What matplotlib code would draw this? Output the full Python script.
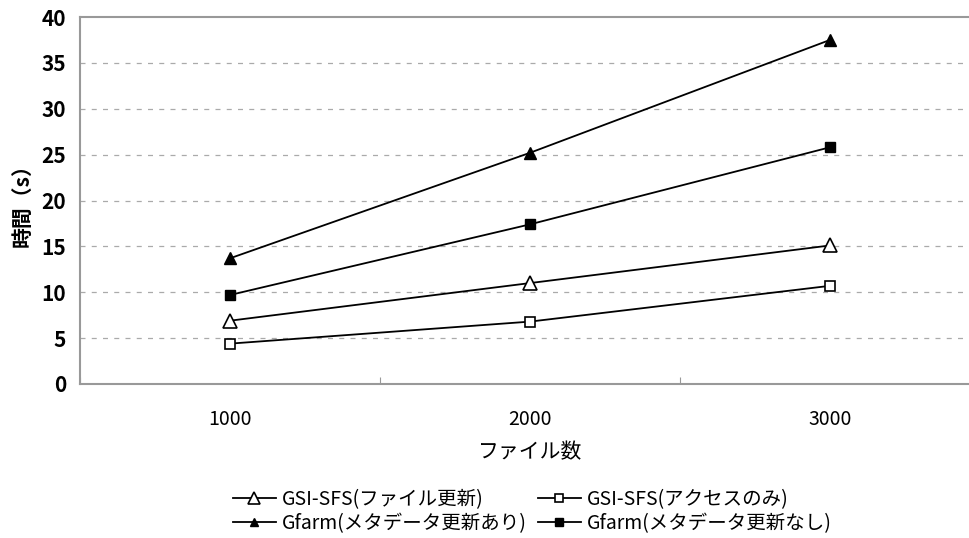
import matplotlib
matplotlib.use('Agg')
import matplotlib.pyplot as plt

plt.rcParams['font.family'] = ['Noto Sans CJK JP', 'DejaVu Sans']

files = ['1000', '2000', '3000']
gsi_update = [6.9, 11.0, 15.1]
gsi_access = [4.4, 6.8, 10.7]
gfarm_meta = [13.7, 25.2, 37.5]
gfarm_nometa = [9.7, 17.4, 25.8]

fig = plt.figure(figsize=(9.7, 5.38), dpi=100)
ax = fig.add_axes([80/970, 1-384/538, 900/970, 367/538])

x = range(len(files))
# column-wise legend fill: order so rows read GSI / Gfarm
ax.plot(x, gsi_update, color='black', lw=1.3, marker='^', ms=10, mfc='white', mec='black', mew=1.2,
        label='GSI-SFS(ファイル更新)')
ax.plot(x, gfarm_meta, color='black', lw=1.3, marker='^', ms=8, mfc='black', mec='black',
        label='Gfarm(メタデータ更新あり)')
ax.plot(x, gsi_access, color='black', lw=1.3, marker='s', ms=7, mfc='white', mec='black', mew=1.2,
        label='GSI-SFS(アクセスのみ)')
ax.plot(x, gfarm_nometa, color='black', lw=1.3, marker='s', ms=7, mfc='black', mec='black',
        label='Gfarm(メタデータ更新なし)')

ax.set_xlim(-0.5, 2.5)
ax.set_ylim(0, 40)
ax.set_yticks(range(0, 41, 5))
ax.set_xticks([-0.5, 0.5, 1.5, 2.5])
ax.set_xticklabels([])
ax.set_xticks(list(x), minor=True)
ax.set_xticklabels(files, minor=True)
ax.tick_params(axis='x', which='major', length=5, direction='in', color='#999999')
ax.tick_params(axis='x', which='minor', length=0, pad=18, labelsize=14)
ax.tick_params(axis='y', length=0, pad=10, labelsize=15)
for lbl in ax.get_yticklabels():
    lbl.set_fontweight('bold')

for y in range(5, 40, 5):
    ax.axhline(y, color='#aaaaaa', lw=0.9, ls=(0, (4, 5)), zorder=0)

for s in ['left', 'bottom', 'top']:
    ax.spines[s].set_color('#999999')
    ax.spines[s].set_linewidth(1.5)
ax.spines['right'].set_visible(False)

ax.set_xlabel('ファイル数', fontsize=15, labelpad=8)
ax.set_ylabel('時間（s）', fontsize=15, fontweight='bold', labelpad=6)

leg = ax.legend(loc='upper left', bbox_to_anchor=(145/900, -0.265), ncol=2, frameon=False,
                fontsize=14, handlelength=2.2, handletextpad=0.3, columnspacing=0.6,
                labelspacing=0.15, borderaxespad=0, markerscale=0.8)

fig.savefig('out.png', dpi=100)
